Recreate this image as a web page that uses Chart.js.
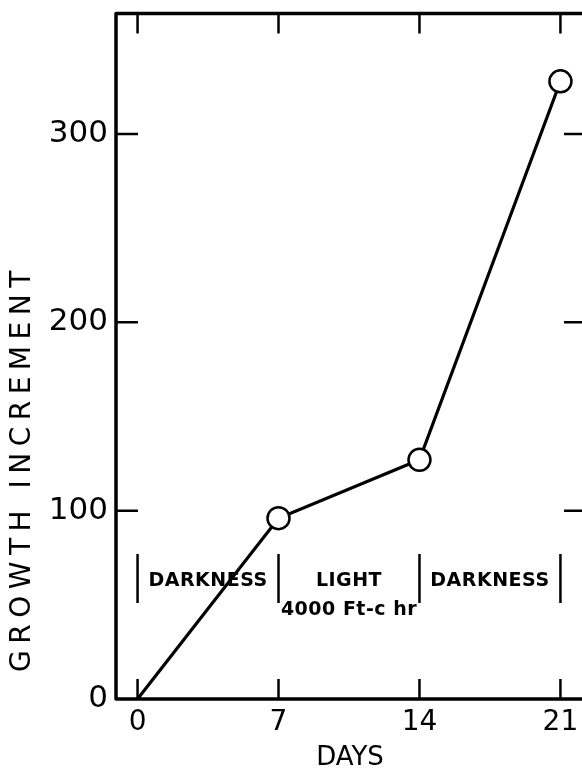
<!DOCTYPE html>
<html>
<head>
<meta charset="utf-8">
<script src="https://cdn.jsdelivr.net/npm/chart.js@4.4.1/dist/chart.umd.min.js"></script>
<style>
  html, body { margin: 0; padding: 0; background: #fff; overflow: hidden; }
  #wrap { width: 600px; height: 770px; }
</style>
</head>
<body>
<div id="wrap"><canvas id="growth-chart"></canvas></div>
<script>
// values
const days = [0, 7, 14, 21]
const growth = [0, 96, 127, 328]
const dayTicks = [0, 7, 14, 21]
const growthTicks = [0, 100, 200, 300]
const periodLabels = ['DARKNESS', 'LIGHT', 'DARKNESS']
const periodStart = [0, 7, 14]
const periodEnd = [7, 14, 21]
const lightDose = '4000 Ft-c hr'

const FONT = "'DejaVu Sans', sans-serif"

// letter-spaced axis title, nudged along the axis
function spaceTitle(scale, spacing, shift) {
    if (scale._spaced) return
    scale._spaced = true
    const draw = scale.drawTitle
    scale.drawTitle = function () {
        const ctx = this.ctx
        ctx.save()
        ctx.letterSpacing = spacing
        ctx.translate(0, shift)
        draw.apply(this, arguments)
        ctx.restore()
    }
}

// box frame, inward ticks and the darkness / light markers
const framePlugin = {
    id: 'frame',
    beforeDatasetsDraw(chart) {
        const ctx = chart.ctx
        const { left, right, top, bottom } = chart.chartArea
        const x = chart.scales.x
        const y = chart.scales.y
        ctx.save()
        ctx.strokeStyle = '#000'
        ctx.fillStyle = '#000'
        ctx.lineJoin = 'round'
        ctx.lineWidth = 3.5
        ctx.strokeRect(left, top, right - left, bottom - top)

        ctx.lineWidth = 2.5
        ctx.beginPath()
        dayTicks.forEach(d => {
            const px = x.getPixelForValue(d)
            ctx.moveTo(px, bottom); ctx.lineTo(px, bottom - 20)
            ctx.moveTo(px, top); ctx.lineTo(px, top + 20)
        })
        growthTicks.slice(1).forEach(v => {
            const py = y.getPixelForValue(v)
            ctx.moveTo(left, py); ctx.lineTo(left + 22, py)
            ctx.moveTo(right, py); ctx.lineTo(right - 20, py)
        })
        ctx.stroke()

        const barTop = y.getPixelForValue(77)
        const barBottom = y.getPixelForValue(51)
        ctx.beginPath()
        periodStart.concat(periodEnd.slice(-1)).forEach(d => {
            const px = x.getPixelForValue(d)
            ctx.moveTo(px, barTop); ctx.lineTo(px, barBottom)
        })
        ctx.stroke()

        ctx.font = 'bold 19px ' + FONT
        ctx.letterSpacing = '0.5px'
        ctx.textAlign = 'center'
        ctx.textBaseline = 'middle'
        periodLabels.forEach((t, i) => {
            const mid = (periodStart[i] + periodEnd[i]) / 2
            ctx.fillText(t, x.getPixelForValue(mid), y.getPixelForValue(62.5))
        })
        ctx.fillText(lightDose, x.getPixelForValue(10.5), y.getPixelForValue(47))
        ctx.restore()
    }
}

const myChart = new Chart(document.getElementById('growth-chart'), {
    type: 'line',
    data: {
        datasets: [{
            data: days.map((d, i) => ({ x: d, y: growth[i] })),
            borderColor: '#000',
            borderWidth: 3.2,
            pointRadius: [0, 11, 11, 11],
            pointBorderWidth: 2.5,
            pointBorderColor: '#000',
            pointBackgroundColor: '#fff',
            tension: 0,
            clip: false
        }]
    },
    options: {
        responsive: true,
        maintainAspectRatio: false,
        animation: false,
        events: [],
        layout: { padding: { top: 13, right: 16, left: 0, bottom: 0 } },
        plugins: { legend: { display: false }, tooltip: { enabled: false } },
        scales: {
            x: {
                type: 'linear',
                min: -1.07,
                max: 22.17,
                afterBuildTicks: s => { s.ticks = dayTicks.map(v => ({ value: v })) },
                afterFit: s => { s.height = 71; s.paddingLeft = 0; s.paddingRight = 0 },
                grid: { display: false },
                border: { display: false },
                ticks: {
                    color: '#000',
                    font: { family: FONT, size: 28, lineHeight: 1 },
                    padding: 2,
                    maxRotation: 0,
                    autoSkip: false
                },
                title: {
                    display: true,
                    text: 'DAYS',
                    color: '#000',
                    font: { family: FONT, size: 26, lineHeight: 1 },
                    padding: { top: 0, bottom: -1 }
                }
            },
            y: {
                min: 0,
                max: 364,
                afterBuildTicks: s => { s.ticks = growthTicks.map(v => ({ value: v })) },
                afterFit: s => {
                    s.width = 116
                    s.paddingTop = 0
                    s.paddingBottom = 0
                    spaceTitle(s, '6.5px', -27)
                },
                grid: { display: false },
                border: { display: false },
                ticks: {
                    color: '#000',
                    font: { family: FONT, size: 31, lineHeight: 1 },
                    padding: 0
                },
                title: {
                    display: true,
                    text: 'GROWTH INCREMENT',
                    align: 'start',
                    color: '#000',
                    font: { family: FONT, size: 28, lineHeight: 1 },
                    padding: { top: 9, bottom: 0 }
                }
            }
        }
    },
    plugins: [framePlugin]
})
</script>
</body>
</html>
